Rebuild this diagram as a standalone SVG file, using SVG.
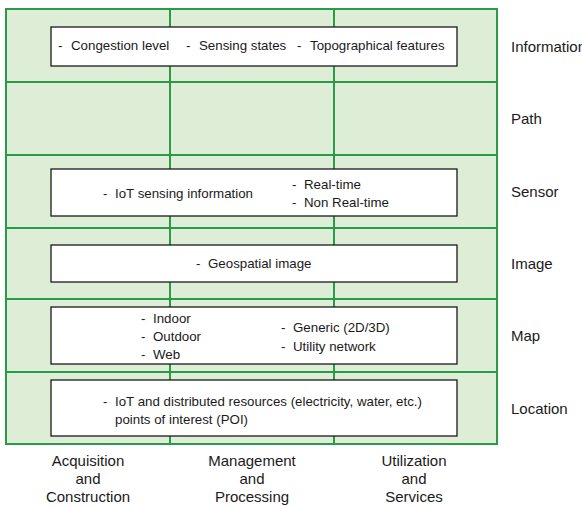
<svg xmlns="http://www.w3.org/2000/svg" width="582" height="507" viewBox="0 0 582 507">
<style>
text{font-family:"Liberation Sans",Arial,sans-serif;font-size:13.3px;fill:#1a1a1a}
.lbl{font-size:15px}
.grid{fill:none;stroke:#2a9a48;stroke-width:2}
.box{fill:#ffffff;stroke:#1a1a1a;stroke-width:1.3}
.c{text-anchor:middle}
</style>
<rect x="0" y="0" width="582" height="507" fill="#ffffff"/>
<g id="grid">
<rect x="6" y="9" width="491" height="435" fill="#deedd6"/>
<g class="grid">
<rect x="6" y="9" width="491" height="435"/>
<line x1="170" y1="9" x2="170" y2="444"/>
<line x1="334" y1="9" x2="334" y2="444"/>
<line x1="6" y1="82" x2="497" y2="82"/>
<line x1="6" y1="155" x2="497" y2="155"/>
<line x1="6" y1="228" x2="497" y2="228"/>
<line x1="6" y1="299" x2="497" y2="299"/>
<line x1="6" y1="372" x2="497" y2="372"/>
</g>
</g>
<g id="information">
<rect class="box" x="51" y="27" width="406" height="39"/>
<text x="58" y="50">-</text><text x="71" y="50">Congestion level</text>
<text x="186" y="50">-</text><text x="199" y="50">Sensing states</text>
<text x="297" y="50">-</text><text x="310" y="50">Topographical features</text>
</g>
<g id="sensor">
<rect class="box" x="51" y="169" width="406" height="47"/>
<text x="103" y="198">-</text><text x="115" y="198">IoT sensing information</text>
<text x="292" y="189">-</text><text x="304" y="189">Real-time</text>
<text x="292" y="207">-</text><text x="304" y="207">Non Real-time</text>
</g>
<g id="image">
<rect class="box" x="51" y="245" width="406" height="37"/>
<text x="196" y="268">-</text><text x="208" y="268">Geospatial image</text>
</g>
<g id="map">
<rect class="box" x="51" y="307" width="406" height="57"/>
<text x="141" y="323">-</text><text x="153" y="323">Indoor</text>
<text x="141" y="341">-</text><text x="153" y="341">Outdoor</text>
<text x="141" y="359">-</text><text x="153" y="359">Web</text>
<text x="281" y="332">-</text><text x="293" y="332">Generic (2D/3D)</text>
<text x="281" y="351">-</text><text x="293" y="351">Utility network</text>
</g>
<g id="location">
<rect class="box" x="51" y="380" width="406" height="56"/>
<text x="103" y="406">-</text><text x="115" y="406">IoT and distributed resources (electricity, water, etc.)</text>
<text x="115" y="424">points of interest (POI)</text>
</g>
<g id="row-labels">
<text class="lbl" x="511" y="52">Information</text>
<text class="lbl" x="511" y="124">Path</text>
<text class="lbl" x="511" y="197">Sensor</text>
<text class="lbl" x="511" y="269">Image</text>
<text class="lbl" x="511" y="341">Map</text>
<text class="lbl" x="511" y="414">Location</text>
</g>
<g id="column-labels">
<text class="lbl c" x="88" y="466">Acquisition</text>
<text class="lbl c" x="88" y="484">and</text>
<text class="lbl c" x="88" y="502">Construction</text>
<text class="lbl c" x="252" y="466">Management</text>
<text class="lbl c" x="252" y="484">and</text>
<text class="lbl c" x="252" y="502">Processing</text>
<text class="lbl c" x="414" y="466">Utilization</text>
<text class="lbl c" x="414" y="484">and</text>
<text class="lbl c" x="414" y="502">Services</text>
</g>
</svg>
